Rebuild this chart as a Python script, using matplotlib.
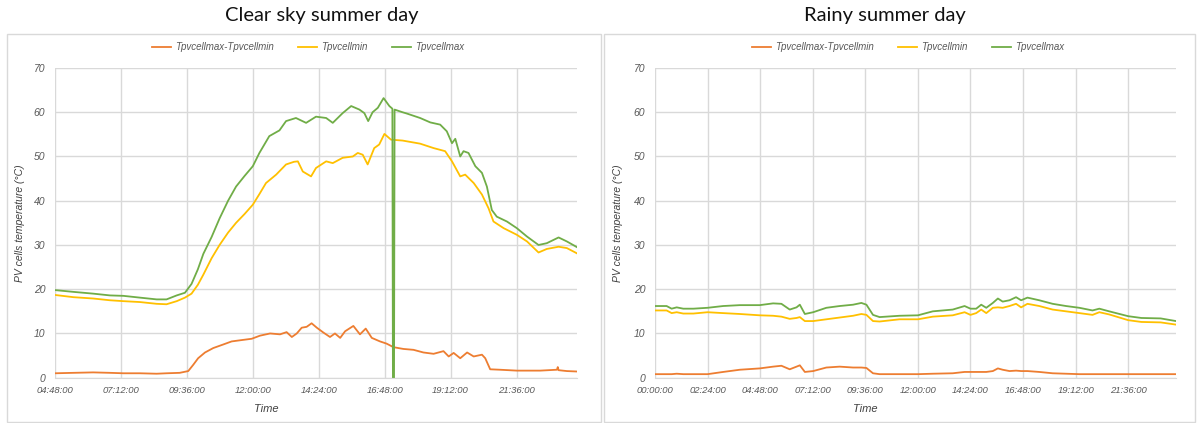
import matplotlib
matplotlib.use("Agg")
import matplotlib.pyplot as plt
from matplotlib.patches import Rectangle
from matplotlib.ticker import FuncFormatter, MultipleLocator

# Clear sky summer day (hours of day, degC)
clear_time_max = [4.8, 5.47, 6.19, 6.8, 7.29, 7.89, 8.5, 8.86, 9.23, 9.53, 9.77, 10.0, 10.2, 10.5,
                  10.79, 11.1, 11.39, 11.7, 12.0, 12.24, 12.6, 12.97, 13.21, 13.57, 13.94, 14.3,
                  14.67, 14.91, 15.27, 15.58, 15.88, 16.06, 16.2, 16.36, 16.55, 16.76, 16.97,
                  17.08, 17.10, 17.14, 17.16, 17.45, 17.61, 18.09, 18.46, 18.82, 19.06, 19.25,
                  19.37, 19.55, 19.67, 19.85, 20.1, 20.34, 20.52, 20.7, 20.88, 21.25, 21.61,
                  21.98, 22.4, 22.7, 23.13, 23.43, 23.8]
clear_tmax = [19.8, 19.4, 19.0, 18.6, 18.5, 18.1, 17.7, 17.7, 18.6, 19.2, 21.2, 24.5, 28.0, 31.8,
              36.0, 40.0, 43.2, 45.6, 47.8, 50.8, 54.6, 55.9, 58.0, 58.7, 57.6, 59.0,
              58.7, 57.6, 59.8, 61.4, 60.6, 59.8, 58.0, 60.0, 61.0, 63.2, 61.4,
              60.8, 0.0, 0.0, 60.6, 60.0, 59.7, 58.7, 57.7, 57.2, 55.7, 53.0,
              54.0, 50.0, 51.2, 50.8, 47.8, 46.3, 43.2, 37.9, 36.4, 35.3, 33.8,
              31.9, 30.0, 30.4, 31.7, 30.8, 29.5]

clear_time_min = [4.8, 5.47, 6.19, 6.8, 7.29, 7.89, 8.5, 8.86, 9.23, 9.53, 9.77, 10.0, 10.2, 10.5,
                  10.79, 11.1, 11.39, 11.7, 12.0, 12.24, 12.48, 12.85, 13.21, 13.5, 13.64, 13.82,
                  14.12, 14.3, 14.67, 14.91, 15.27, 15.64, 15.82, 16.0, 16.18, 16.42, 16.6,
                  16.79, 17.03, 17.45, 18.09, 18.58, 19.0, 19.25, 19.55, 19.73, 20.04, 20.34,
                  20.58, 20.76, 21.13, 21.61, 21.98, 22.4, 22.7, 23.13, 23.43, 23.8]
clear_tmin = [18.7, 18.2, 17.9, 17.5, 17.3, 17.1, 16.7, 16.6, 17.3, 18.1, 19.0, 21.0, 23.3, 27.0,
              30.0, 32.8, 35.0, 37.0, 39.1, 41.5, 44.0, 45.9, 48.2, 48.8, 48.9, 46.6,
              45.5, 47.4, 48.9, 48.5, 49.7, 50.0, 50.8, 50.4, 48.2, 51.9, 52.7,
              55.1, 53.8, 53.6, 52.9, 51.9, 51.2, 48.9, 45.5, 45.9, 44.0, 41.4,
              38.3, 35.3, 33.8, 32.3, 30.8, 28.3, 29.1, 29.6, 29.3, 28.1]

clear_time_diff = [4.8, 5.47, 6.19, 6.8, 7.29, 7.89, 8.5, 8.86, 9.34, 9.65, 9.83, 10.01, 10.26,
                   10.56, 10.92, 11.23, 11.59, 11.96, 12.26, 12.63, 12.99, 13.23, 13.42, 13.6,
                   13.78, 13.96, 14.14, 14.33, 14.57, 14.81, 14.99, 15.18, 15.36, 15.66, 15.9,
                   16.11, 16.33, 16.63, 16.87, 17.12, 17.48, 17.85, 18.21, 18.58, 18.94, 19.13,
                   19.31, 19.55, 19.8, 20.04, 20.34, 20.46, 20.64, 21.0, 21.61, 22.46, 23.07,
                   23.1, 23.13, 23.43, 23.8]
clear_diff = [1.0, 1.1, 1.2, 1.1, 1.0, 1.0, 0.9, 1.0, 1.1, 1.5, 2.9, 4.4, 5.7,
              6.7, 7.5, 8.2, 8.5, 8.8, 9.5, 10.0, 9.8, 10.3, 9.2, 10.0,
              11.3, 11.5, 12.3, 11.3, 10.2, 9.2, 10.0, 9.0, 10.5, 11.7, 9.8,
              11.1, 9.0, 8.2, 7.7, 6.9, 6.5, 6.3, 5.7, 5.4, 6.0, 4.8,
              5.6, 4.4, 5.7, 4.8, 5.2, 4.4, 1.9, 1.8, 1.6, 1.6, 1.8,
              2.4, 1.7, 1.5, 1.4]

# Rainy summer day
rainy_time = [0.0, 0.53, 0.76, 0.99, 1.29, 1.75, 2.4, 3.11, 3.87, 4.78, 5.39, 5.77, 6.15, 6.46,
              6.61, 6.84, 7.22, 7.82, 8.43, 9.04, 9.42, 9.65, 9.95, 10.25, 11.16, 12.0, 12.68,
              13.59, 14.13, 14.4, 14.66, 14.89, 15.12, 15.42, 15.65, 15.87, 16.18, 16.48,
              16.71, 17.0, 17.54, 18.15, 18.76, 19.37, 19.97, 20.28, 20.73, 21.6, 22.2,
              23.08, 23.78]
rainy_tmax = [16.2, 16.2, 15.6, 15.9, 15.6, 15.6, 15.8, 16.2, 16.4, 16.4, 16.8, 16.7, 15.4, 15.9,
              16.5, 14.4, 14.8, 15.8, 16.2, 16.5, 16.9, 16.5, 14.2, 13.7, 14.0, 14.1, 15.0,
              15.4, 16.2, 15.6, 15.6, 16.5, 15.8, 16.9, 17.9, 17.2, 17.5, 18.2,
              17.5, 18.1, 17.5, 16.7, 16.2, 15.8, 15.2, 15.6, 15.0, 13.9, 13.5,
              13.4, 12.8]
rainy_tmin = [15.2, 15.2, 14.6, 14.8, 14.5, 14.5, 14.8, 14.6, 14.4, 14.1, 14.0, 13.8, 13.3, 13.5,
              13.7, 12.8, 12.8, 13.2, 13.6, 14.0, 14.4, 14.2, 12.8, 12.7, 13.2, 13.2, 13.8,
              14.1, 14.8, 14.2, 14.6, 15.4, 14.6, 15.8, 15.9, 15.8, 16.2, 16.7,
              15.9, 16.7, 16.2, 15.4, 15.0, 14.6, 14.2, 14.8, 14.3, 13.0, 12.6,
              12.5, 12.0]
rainy_diff = [0.8, 0.8, 0.8, 0.9, 0.8, 0.8, 0.8, 1.3, 1.8, 2.1, 2.5, 2.7, 1.9, 2.5,
              2.8, 1.3, 1.5, 2.3, 2.5, 2.3, 2.3, 2.2, 1.0, 0.8, 0.8, 0.8, 0.9,
              1.0, 1.3, 1.3, 1.3, 1.3, 1.3, 1.5, 2.1, 1.8, 1.5, 1.6,
              1.5, 1.5, 1.3, 1.0, 0.9, 0.8, 0.8, 0.8, 0.8, 0.8, 0.8,
              0.8, 0.8]

series_labels = ["Tpvcellmax-Tpvcellmin", "Tpvcellmin", "Tpvcellmax"]
series_colors = ["#ED7D31", "#FFC000", "#70AD47"]

GRID = "#d9d9d9"
TEXT = "#595959"


def hhmmss(h, pos=None):
    m = int(round(h * 60))
    return "%02d:%02d:00" % (m // 60, m % 60)


def style_axes(ax, xmin, xmax):
    ax.set_xlim(xmin, xmax)
    ax.set_ylim(0, 70)
    ax.xaxis.set_major_locator(MultipleLocator(2.4))
    ax.xaxis.set_major_formatter(FuncFormatter(hhmmss))
    ax.yaxis.set_major_locator(MultipleLocator(10))
    ax.grid(True, color=GRID, lw=1.0)
    ax.set_axisbelow(True)
    for side in ["top", "right", "left"]:
        ax.spines[side].set_visible(False)
    ax.spines["bottom"].set_color(GRID)
    ax.tick_params(length=0, colors=TEXT)
    ax.tick_params(axis="x", labelsize=6.8, pad=6)
    ax.tick_params(axis="y", labelsize=7.5, pad=7)
    for lab in ax.get_xticklabels() + ax.get_yticklabels():
        lab.set_fontstyle("italic")
    ax.set_xlabel("Time", fontsize=8, fontstyle="italic", color="#404040")
    ax.set_ylabel("PV cells temperature (°C)", fontsize=7.5, fontstyle="italic", color="#404040")


plt.rcParams["font.family"] = ["Liberation Sans", "DejaVu Sans"]

fig = plt.figure(figsize=(11.98, 4.23), dpi=100)

# panel frames
for x0, x1 in [(7, 601), (604, 1195)]:
    fig.patches.append(Rectangle((x0 / 1198, 1 - 422 / 423), (x1 - x0) / 1198, (422 - 34) / 423,
                                 transform=fig.transFigure, fill=False, ec=GRID, lw=1.0))

ax1 = fig.add_axes([55 / 1198, 1 - 377.7 / 423, 522 / 1198, 309.7 / 423])
ax2 = fig.add_axes([655 / 1198, 1 - 377.7 / 423, 521 / 1198, 309.7 / 423])

lw = 1.3
ax1.plot(clear_time_diff, clear_diff, color=series_colors[0], lw=lw, label=series_labels[0])
ax1.plot(clear_time_min, clear_tmin, color=series_colors[1], lw=lw, label=series_labels[1])
ax1.plot(clear_time_max, clear_tmax, color=series_colors[2], lw=lw, label=series_labels[2])
style_axes(ax1, 4.8, 23.8)

ax2.plot(rainy_time, rainy_diff, color=series_colors[0], lw=lw, label=series_labels[0])
ax2.plot(rainy_time, rainy_tmin, color=series_colors[1], lw=lw, label=series_labels[1])
ax2.plot(rainy_time, rainy_tmax, color=series_colors[2], lw=lw, label=series_labels[2])
style_axes(ax2, 0, 23.78)

ax1.xaxis.set_label_coords(0.404, -0.085)
ax2.xaxis.set_label_coords(0.403, -0.085)
ax1.yaxis.set_label_coords(-0.058, 0.5)
ax2.yaxis.set_label_coords(-0.061, 0.5)

for ax, cx in [(ax1, 308), (ax2, 908)]:
    leg = fig.legend(*ax.get_legend_handles_labels(), loc="center", ncol=3,
                     bbox_to_anchor=(cx / 1198, 1 - 47 / 423), frameon=False,
                     prop={"size": 7, "style": "italic"}, handlelength=2.0,
                     handletextpad=0.4, columnspacing=2.5)
    for t in leg.get_texts():
        t.set_color(TEXT)

fig.text(322 / 1198, 1 - 15 / 423, "Clear sky summer day", ha="center", va="center",
         fontsize=14.5, family=["Lato", "DejaVu Sans"], color="#111111")
fig.text(885 / 1198, 1 - 15 / 423, "Rainy summer day", ha="center", va="center",
         fontsize=14.5, family=["Lato", "DejaVu Sans"], color="#111111")

fig.savefig("out.png", dpi=100)
